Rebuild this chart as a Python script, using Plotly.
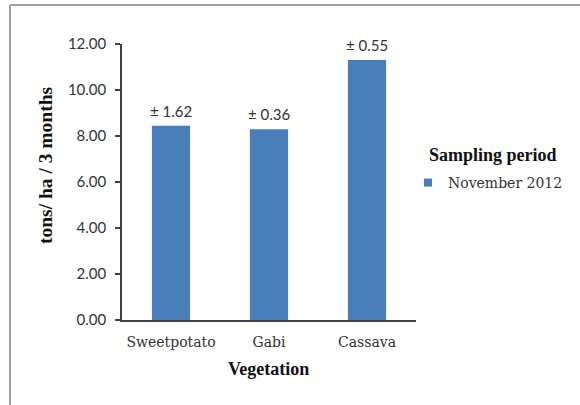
import plotly.graph_objects as go

categories = ["Sweetpotato", "Gabi", "Cassava"]
yield_values = [8.45, 8.29, 11.30]
sd_labels = ["± 1.62", "± 0.36", "± 0.55"]
series_name = "November 2012"
legend_title = "Sampling period"
x_title = "Vegetation"
y_title = "tons/ ha / 3 months"
y_ticks = [0, 2, 4, 6, 8, 10, 12]
y_tick_labels = ["0.00", "2.00", "4.00", "6.00", "8.00", "10.00", "12.00"]

bar_color = "#4A7EBB"
serif_title = "Liberation Serif"
serif = "DejaVu Serif"
sans = "Lato"

W, H = 580, 405
L, R, T, B = 122, 164, 44, 85
PW, PH = W - L - R, H - T - B


def px_x(x):
    return (x - L) / PW


def px_y(y):
    return (H - B - y) / PH


fig = go.Figure()
fig.add_trace(go.Bar(
    x=categories, y=yield_values, name=series_name,
    marker=dict(color=bar_color, line=dict(width=0)),
    width=0.39, showlegend=False,
))
# legend entry with a small square marker
fig.add_trace(go.Scatter(
    x=[None], y=[None], mode="markers", name=series_name,
    marker=dict(symbol="square", size=8, color=bar_color),
))

for c, v, t in zip(categories, yield_values, sd_labels):
    fig.add_annotation(x=c, y=v, text=t, showarrow=False, yanchor="bottom",
                       yshift=4, font=dict(family=sans, size=15, color="#333333"))

# axis titles and legend title
fig.add_annotation(xref="paper", yref="paper", x=px_x(45), y=px_y(165),
                   text="<b>%s</b>" % y_title, textangle=-90, showarrow=False,
                   xanchor="center", yanchor="middle",
                   font=dict(family=serif_title, size=19.5, color="#111111"))
fig.add_annotation(xref="paper", yref="paper", x=px_x(268), y=px_y(369),
                   text="<b>%s</b>" % x_title, showarrow=False,
                   xanchor="center", yanchor="middle",
                   font=dict(family=serif_title, size=18, color="#111111"))
fig.add_annotation(xref="paper", yref="paper", x=px_x(427), y=px_y(155),
                   text="<b>%s</b>" % legend_title, showarrow=False,
                   xanchor="left", yanchor="middle",
                   font=dict(family=serif_title, size=18, color="#111111"))

fig.update_layout(
    width=W, height=H,
    margin=dict(l=L, r=R, t=T, b=B),
    paper_bgcolor="white", plot_bgcolor="white",
    legend=dict(
        font=dict(family=serif, size=14, color="#333333"),
        x=px_x(408), xanchor="left", y=px_y(183), yanchor="middle",
        itemsizing="trace", itemwidth=30,
    ),
    xaxis=dict(
        showline=True, linecolor="#404040", linewidth=1.5,
        ticks="", ticklabelstandoff=8,
        tickfont=dict(family=serif, size=14, color="#333333"),
    ),
    yaxis=dict(
        range=[0, 12], tickvals=y_ticks, ticktext=y_tick_labels,
        showline=True, linecolor="#404040", linewidth=1.5,
        ticks="outside", ticklen=5, tickcolor="#404040", tickwidth=1.5,
        ticklabelstandoff=6,
        showgrid=False, zeroline=False,
        tickfont=dict(family=sans, size=15, color="#333333"),
    ),
)

# chart-area frame (left and top edges)
fig.add_shape(type="line", xref="paper", yref="paper", x0=px_x(10), x1=px_x(W),
              y0=px_y(5), y1=px_y(5), line=dict(color="#A0A0A0", width=2))
fig.add_shape(type="line", xref="paper", yref="paper", x0=px_x(10), x1=px_x(10),
              y0=px_y(5), y1=px_y(H), line=dict(color="#A0A0A0", width=2))

fig.write_html("out.html", config={"displayModeBar": False},
               post_script="document.body.style.margin='0';")
